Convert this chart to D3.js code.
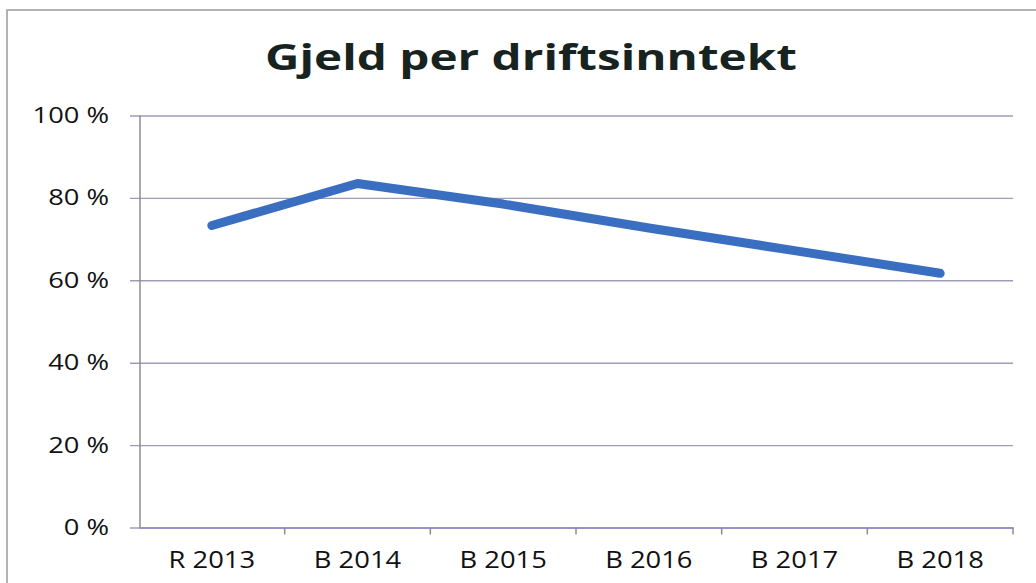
<!DOCTYPE html>
<html><head><meta charset="utf-8">
<script src="https://cdn.jsdelivr.net/npm/d3@7"></script>
<style>
html,body{margin:0;padding:0;background:#fff;overflow:hidden;}
svg{display:block;overflow:hidden;}
text{font-family:"Open Sans",sans-serif;}
</style></head>
<body>
<svg id="c" width="1036" height="583"></svg>
<script>
const title = "Gjeld per driftsinntekt";
const categories = ["R 2013","B 2014","B 2015","B 2016","B 2017","B 2018"];
const values = [73.3, 83.5, 78.5, 72.7, 67.2, 61.7];
const yTicks = [0, 20, 40, 60, 80, 100];

const svg = d3.select("#c");
const m = {left:139, right:1013, top:115.5, bottom:527.5};

// outer frame (extends beyond the picture at right/bottom)
svg.append("path").attr("d","M7,590 L7,10 L1040,10")
  .attr("fill","none").attr("stroke","#9a9a9a").attr("stroke-width",1.5);

const x = d3.scaleBand().domain(categories).range([m.left, m.right]).padding(0);
const y = d3.scaleLinear().domain([0,100]).range([m.bottom, m.top]);

// gridlines via axis
const yAxis = d3.axisLeft(y).tickValues(yTicks).tickSize(0).tickFormat("");
const gy = svg.append("g").attr("transform", `translate(${m.right},0)`).call(yAxis);
gy.select(".domain").remove();
gy.selectAll(".tick line").attr("x1", -(m.right-m.left)-9).attr("x2", 0)
  .attr("stroke","#a09cb8").attr("stroke-width",1.4);

// y labels, stretched horizontally like the reference
const ySX = 1.3;
yTicks.forEach(t => {
  svg.append("g").attr("transform", `translate(109,${y(t)+7.5})`)
    .append("text").attr("transform", `scale(${ySX},1)`)
    .attr("text-anchor","end").attr("font-size",21).attr("fill","#111")
    .text(t + " %");
});

// y axis line
svg.append("line").attr("x1",m.left+1).attr("x2",m.left+1).attr("y1",y(100)).attr("y2",y(0))
  .attr("stroke","#8c8c8c").attr("stroke-width",1.5);

// x axis
const xAxis = d3.axisBottom(x).tickSize(0).tickFormat("");
const gx = svg.append("g").attr("transform", `translate(0,${m.bottom})`).call(xAxis);
gx.select(".domain").attr("stroke","#8a88c8").attr("stroke-width",1.5);
gx.selectAll(".tick").remove();
const edges = categories.map(c => x(c) + x.bandwidth());
gx.selectAll("line.edge").data(edges).enter().append("line").attr("class","edge")
  .attr("x1",d=>d).attr("x2",d=>d).attr("y1",0).attr("y2",7)
  .attr("stroke","#8c8c8c").attr("stroke-width",1.5);

const xSX = 1.19;
categories.forEach(c => {
  svg.append("g").attr("transform", `translate(${x(c)+x.bandwidth()/2},568)`)
    .append("text").attr("transform", `scale(${xSX},1)`)
    .attr("text-anchor","middle").attr("font-size",23).attr("fill","#111")
    .text(c);
});

// line
const line = d3.line().x((d,i)=>x(categories[i])+x.bandwidth()/2).y(d=>y(d));
svg.append("path").datum(values).attr("d",line).attr("fill","none")
  .attr("stroke","#3a6ec0").attr("stroke-width",9)
  .attr("stroke-linecap","round").attr("stroke-linejoin","round");

// title
const tg = svg.append("g").attr("transform","translate(531,70)");
const tt = tg.append("text").attr("text-anchor","middle").attr("font-size",35)
  .attr("font-weight","bold").attr("fill","#17231f").text(title);
const tw = tt.node().getComputedTextLength();
tt.attr("transform", `scale(${532/tw},1)`);
</script>
</body></html>
